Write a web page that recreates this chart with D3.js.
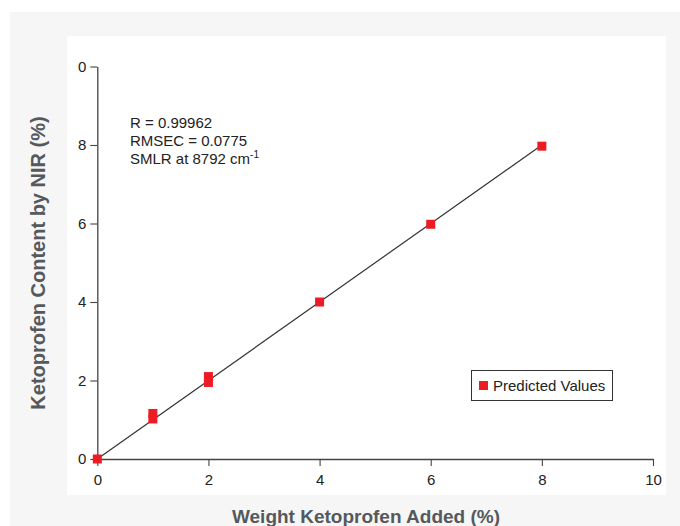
<!DOCTYPE html>
<html>
<head>
<meta charset="utf-8">
<script src="https://cdn.jsdelivr.net/npm/d3@7"></script>
<style>
  html, body { margin: 0; padding: 0; background: #ffffff; }
  svg { display: block; }
</style>
</head>
<body>
<script>
// ---- data ----
const weightAdded   = [0, 1, 1, 2, 2, 4, 6, 8];
const nirPredicted  = [0, 1.02, 1.16, 1.95, 2.10, 4.00, 5.98, 7.97];
const fitX = [0, 8];
const fitY = [0, 8];
const xTickValues = [0, 2, 4, 6, 8, 10];
const xTickLabels = ["0", "2", "4", "6", "8", "10"];
const yTickValues = [0, 2, 4, 6, 8, 10];
const yTickLabels = ["0", "2", "4", "6", "8", "0"];
const statsLines = ["R = 0.99962", "RMSEC = 0.0775", "SMLR at 8792 cm"];
const legendLabel = "Predicted Values";
const xTitle = "Weight Ketoprofen Added (%)";
const yTitle = "Ketoprofen Content by NIR (%)";

// ---- drawing ----
const W = 680, H = 526;
const svg = d3.select("body").append("svg").attr("width", W).attr("height", H);

svg.append("rect").attr("x", 10).attr("y", 12).attr("width", W - 10).attr("height", H - 12).attr("fill", "#f6f6f6");
svg.append("rect").attr("x", 67).attr("y", 36).attr("width", 599).attr("height", 459).attr("fill", "#ffffff");

const x = d3.scaleLinear().domain([0, 10]).range([97.3, 653]);
const y = d3.scaleLinear().domain([0, 10]).range([459, 66.5]);

const font = "'Liberation Sans', Arial, Helvetica, sans-serif";

const xAxis = svg.append("g").attr("transform", "translate(0,459)")
  .call(d3.axisBottom(x).tickValues(xTickValues).tickFormat((d, i) => xTickLabels[i]).tickSize(7).tickSizeOuter(0).tickPadding(8));
const yAxis = svg.append("g").attr("transform", "translate(97.3,0)")
  .call(d3.axisLeft(y).tickValues(yTickValues).tickFormat((d, i) => yTickLabels[i]).tickSize(7).tickSizeOuter(0).tickPadding(4));

[xAxis, yAxis].forEach(g => {
  g.select(".domain").attr("stroke", "#444").attr("stroke-width", 1.3);
  g.selectAll(".tick line").attr("stroke", "#444").attr("stroke-width", 1.1);
  g.selectAll(".tick text").attr("fill", "#222").attr("font-family", font).attr("font-size", 15);
});

// fit line
const line = d3.line().x(d => x(d[0])).y(d => y(d[1]));
svg.append("path").datum(d3.zip(fitX, fitY)).attr("d", line)
  .attr("fill", "none").attr("stroke", "#333").attr("stroke-width", 1.2);

// markers
const ms = 9;
svg.append("g").selectAll("rect").data(d3.zip(weightAdded, nirPredicted)).join("rect")
  .attr("x", d => x(d[0]) - ms / 2).attr("y", d => y(d[1]) - ms / 2)
  .attr("width", ms).attr("height", ms).attr("fill", "#ed1c24");

// stats text
const st = svg.append("g").attr("font-family", font).attr("font-size", 15).attr("fill", "#222");
statsLines.forEach((s, i) => {
  const t = st.append("text").attr("x", 130).attr("y", 128 + i * 18).text(s);
  if (i === 2) t.append("tspan").attr("font-size", 10).attr("dy", -6).text("-1");
});

// legend
svg.append("rect").attr("x", 471.5).attr("y", 370.5).attr("width", 141).attr("height", 30)
  .attr("fill", "#fff").attr("stroke", "#333").attr("stroke-width", 1);
svg.append("rect").attr("x", 479).attr("y", 381).attr("width", 9).attr("height", 9).attr("fill", "#ed1c24");
svg.append("text").attr("x", 493).attr("y", 391).attr("font-family", font).attr("font-size", 15)
  .attr("fill", "#222").text(legendLabel);

// axis titles
svg.append("text").attr("x", 366).attr("y", 522.5).attr("text-anchor", "middle")
  .attr("font-family", font).attr("font-weight", "bold").attr("font-size", 19).attr("fill", "#55595d")
  .text(xTitle);
svg.append("text").attr("transform", "translate(44.5,263) rotate(-90)").attr("text-anchor", "middle")
  .attr("font-family", font).attr("font-weight", "bold").attr("font-size", 20).attr("fill", "#55595d")
  .text(yTitle);
</script>
</body>
</html>
